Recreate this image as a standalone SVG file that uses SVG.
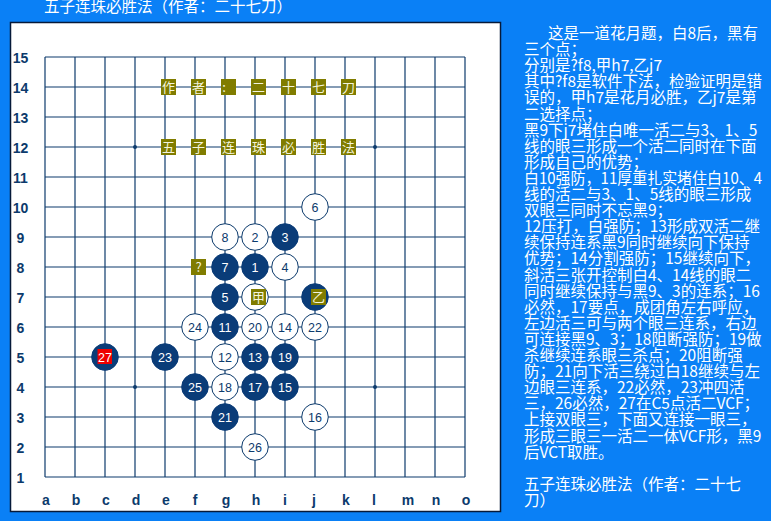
<svg xmlns="http://www.w3.org/2000/svg" width="771" height="521" viewBox="0 0 771 521">
<style>
.cjk{font-family:"Noto Sans CJK SC","Noto Sans",sans-serif;}
.title{fill:#ffffff;font-size:15.5px;}
.panel{fill:#ffffff;font-size:15.5px;}
.grid line{stroke:#0c3a6c;stroke-width:1.2;}
.lbl{font-family:"Liberation Sans",Arial,sans-serif;font-weight:bold;font-size:14px;fill:#0c3a6c;text-anchor:middle;}
.sb{fill:#0a3c78;stroke:#0a3c78;stroke-width:1;}
.sw{fill:#ffffff;stroke:#0c3a6c;stroke-width:1;}
.nb{font-family:"Liberation Sans",Arial,sans-serif;font-size:12.5px;fill:#ffffff;text-anchor:middle;}
.nw{font-family:"Liberation Sans",Arial,sans-serif;font-size:12.5px;fill:#0c3a6c;text-anchor:middle;}
.ob{fill:#807c00;}
.ot{font-family:"Noto Sans CJK SC","Noto Sans",sans-serif;font-size:13px;fill:#f4f4dc;text-anchor:middle;}
.star{fill:#0c3a6c;}
</style>
<rect x="0" y="0" width="771" height="521" fill="#0a80f6"/>
<text class="cjk title" x="44" y="11.5">五子连珠必胜法（作者：二十七刀）</text>
<rect x="10.5" y="22.5" width="490" height="489" fill="#ffffff" stroke="#061a3a" stroke-width="1.5"/>
<g id="grid" class="grid">
<line x1="45" y1="57" x2="465" y2="57"/><line x1="45" y1="87" x2="465" y2="87"/><line x1="45" y1="117" x2="465" y2="117"/><line x1="45" y1="147" x2="465" y2="147"/><line x1="45" y1="177" x2="465" y2="177"/><line x1="45" y1="207" x2="465" y2="207"/><line x1="45" y1="237" x2="465" y2="237"/><line x1="45" y1="267" x2="465" y2="267"/><line x1="45" y1="297" x2="465" y2="297"/><line x1="45" y1="327" x2="465" y2="327"/><line x1="45" y1="357" x2="465" y2="357"/><line x1="45" y1="387" x2="465" y2="387"/><line x1="45" y1="417" x2="465" y2="417"/><line x1="45" y1="447" x2="465" y2="447"/><line x1="45" y1="477" x2="465" y2="477"/>
<line x1="45" y1="57" x2="45" y2="477"/><line x1="75" y1="57" x2="75" y2="477"/><line x1="105" y1="57" x2="105" y2="477"/><line x1="135" y1="57" x2="135" y2="477"/><line x1="165" y1="57" x2="165" y2="477"/><line x1="195" y1="57" x2="195" y2="477"/><line x1="225" y1="57" x2="225" y2="477"/><line x1="255" y1="57" x2="255" y2="477"/><line x1="285" y1="57" x2="285" y2="477"/><line x1="315" y1="57" x2="315" y2="477"/><line x1="345" y1="57" x2="345" y2="477"/><line x1="375" y1="57" x2="375" y2="477"/><line x1="405" y1="57" x2="405" y2="477"/><line x1="435" y1="57" x2="435" y2="477"/><line x1="465" y1="57" x2="465" y2="477"/>
<circle class="star" cx="135" cy="147" r="2"/><circle class="star" cx="375" cy="147" r="2"/><circle class="star" cx="135" cy="387" r="2"/><circle class="star" cx="375" cy="387" r="2"/>
</g>
<g id="row-labels">
<text class="lbl" x="20.5" y="63">15</text><text class="lbl" x="20.5" y="93">14</text><text class="lbl" x="20.5" y="123">13</text><text class="lbl" x="20.5" y="153">12</text><text class="lbl" x="20.5" y="183">11</text><text class="lbl" x="20.5" y="213">10</text><text class="lbl" x="20.5" y="243">9</text><text class="lbl" x="20.5" y="273">8</text><text class="lbl" x="20.5" y="303">7</text><text class="lbl" x="20.5" y="333">6</text><text class="lbl" x="20.5" y="363">5</text><text class="lbl" x="20.5" y="393">4</text><text class="lbl" x="20.5" y="423">3</text><text class="lbl" x="20.5" y="453">2</text><text class="lbl" x="20.5" y="483">1</text>
</g>
<g id="col-labels">
<text class="lbl" x="46" y="505">a</text><text class="lbl" x="76" y="505">b</text><text class="lbl" x="106" y="505">c</text><text class="lbl" x="136" y="505">d</text><text class="lbl" x="166" y="505">e</text><text class="lbl" x="195" y="505">f</text><text class="lbl" x="226" y="505">g</text><text class="lbl" x="256" y="505">h</text><text class="lbl" x="285" y="505">i</text><text class="lbl" x="314" y="505">j</text><text class="lbl" x="346" y="505">k</text><text class="lbl" x="374" y="505">l</text><text class="lbl" x="408" y="505">m</text><text class="lbl" x="436" y="505">n</text><text class="lbl" x="466" y="505">o</text>
</g>
<g id="board-title">
<g id="t-e14"><rect class="ob" x="161" y="79" width="15" height="16"/><text class="ot" x="168.5" y="92">作</text></g>
<g id="t-f14"><rect class="ob" x="191" y="79" width="15" height="16"/><text class="ot" x="198.5" y="92">者</text></g>
<g id="t-g14"><rect class="ob" x="221" y="79" width="15" height="16"/><text class="ot" x="224" y="92">:</text></g>
<g id="t-h14"><rect class="ob" x="251" y="79" width="15" height="16"/><text class="ot" x="258.5" y="92">二</text></g>
<g id="t-i14"><rect class="ob" x="281" y="79" width="15" height="16"/><text class="ot" x="288.5" y="92">十</text></g>
<g id="t-j14"><rect class="ob" x="311" y="79" width="15" height="16"/><text class="ot" x="318.5" y="92">七</text></g>
<g id="t-k14"><rect class="ob" x="341" y="79" width="15" height="16"/><text class="ot" x="348.5" y="92">刀</text></g>
<g id="t-e12"><rect class="ob" x="161" y="139" width="15" height="16"/><text class="ot" x="168.5" y="152">五</text></g>
<g id="t-f12"><rect class="ob" x="191" y="139" width="15" height="16"/><text class="ot" x="198.5" y="152">子</text></g>
<g id="t-g12"><rect class="ob" x="221" y="139" width="15" height="16"/><text class="ot" x="228.5" y="152">连</text></g>
<g id="t-h12"><rect class="ob" x="251" y="139" width="15" height="16"/><text class="ot" x="258.5" y="152">珠</text></g>
<g id="t-i12"><rect class="ob" x="281" y="139" width="15" height="16"/><text class="ot" x="288.5" y="152">必</text></g>
<g id="t-j12"><rect class="ob" x="311" y="139" width="15" height="16"/><text class="ot" x="318.5" y="152">胜</text></g>
<g id="t-k12"><rect class="ob" x="341" y="139" width="15" height="16"/><text class="ot" x="348.5" y="152">法</text></g>
</g>
<g id="stones">
<g id="s1"><circle class="sb" cx="255" cy="267" r="13.3"/><text class="nb" x="255" y="271.5">1</text></g>
<g id="s2"><circle class="sw" cx="255" cy="237" r="13.3"/><text class="nw" x="255" y="241.5">2</text></g>
<g id="s3"><circle class="sb" cx="285" cy="237" r="13.3"/><text class="nb" x="285" y="241.5">3</text></g>
<g id="s4"><circle class="sw" cx="285" cy="267" r="13.3"/><text class="nw" x="285" y="271.5">4</text></g>
<g id="s5"><circle class="sb" cx="225" cy="297" r="13.3"/><text class="nb" x="225" y="301.5">5</text></g>
<g id="s6"><circle class="sw" cx="315" cy="207" r="13.3"/><text class="nw" x="315" y="211.5">6</text></g>
<g id="s7"><circle class="sb" cx="225" cy="267" r="13.3"/><text class="nb" x="225" y="271.5">7</text></g>
<g id="s8"><circle class="sw" cx="225" cy="237" r="13.3"/><text class="nw" x="225" y="241.5">8</text></g>
<g id="s-jia"><circle class="sw" cx="255" cy="297" r="13.3"/><rect class="ob" x="251" y="289" width="15" height="16"/><text class="ot" x="258.5" y="302">甲</text></g>
<g id="s-yi"><circle class="sb" cx="315" cy="297" r="13.3"/><rect class="ob" x="311" y="289" width="15" height="16"/><text class="ot" x="318.5" y="302">乙</text></g>
<g id="s-q"><rect class="ob" x="191" y="259" width="15" height="16"/><text class="ot" x="198.5" y="272">?</text></g>
<g id="s11"><circle class="sb" cx="225" cy="327" r="13.3"/><text class="nb" x="225" y="331.5">11</text></g>
<g id="s12"><circle class="sw" cx="225" cy="357" r="13.3"/><text class="nw" x="225" y="361.5">12</text></g>
<g id="s13"><circle class="sb" cx="255" cy="357" r="13.3"/><text class="nb" x="255" y="361.5">13</text></g>
<g id="s14"><circle class="sw" cx="285" cy="327" r="13.3"/><text class="nw" x="285" y="331.5">14</text></g>
<g id="s15"><circle class="sb" cx="285" cy="387" r="13.3"/><text class="nb" x="285" y="391.5">15</text></g>
<g id="s16"><circle class="sw" cx="315" cy="417" r="13.3"/><text class="nw" x="315" y="421.5">16</text></g>
<g id="s17"><circle class="sb" cx="255" cy="387" r="13.3"/><text class="nb" x="255" y="391.5">17</text></g>
<g id="s18"><circle class="sw" cx="225" cy="387" r="13.3"/><text class="nw" x="225" y="391.5">18</text></g>
<g id="s19"><circle class="sb" cx="285" cy="357" r="13.3"/><text class="nb" x="285" y="361.5">19</text></g>
<g id="s20"><circle class="sw" cx="255" cy="327" r="13.3"/><text class="nw" x="255" y="331.5">20</text></g>
<g id="s21"><circle class="sb" cx="225" cy="417" r="13.3"/><text class="nb" x="225" y="421.5">21</text></g>
<g id="s22"><circle class="sw" cx="315" cy="327" r="13.3"/><text class="nw" x="315" y="331.5">22</text></g>
<g id="s23"><circle class="sb" cx="165" cy="357" r="13.3"/><text class="nb" x="165" y="361.5">23</text></g>
<g id="s24"><circle class="sw" cx="195" cy="327" r="13.3"/><text class="nw" x="195" y="331.5">24</text></g>
<g id="s25"><circle class="sb" cx="195" cy="387" r="13.3"/><text class="nb" x="195" y="391.5">25</text></g>
<g id="s26"><circle class="sw" cx="255" cy="447" r="13.3"/><text class="nw" x="255" y="451.5">26</text></g>
<g id="s27"><circle class="sb" cx="105" cy="357" r="13.3"/><rect x="97.5" y="349" width="14.5" height="15" fill="#ee0000"/><text class="nb" x="105" y="361.5">27</text></g>
</g>
<g id="commentary" class="cjk panel">
<text x="548" y="39">这是一道花月题，白8后，黑有</text>
<text x="524" y="55.1">三个点；</text>
<text x="524" y="71.2">分别是?f8,甲h7,乙j7</text>
<text x="524" y="87.3">其中?f8是软件下法，检验证明是错</text>
<text x="524" y="103.4">误的，甲h7是花月必胜，乙j7是第</text>
<text x="524" y="119.5">二选择点；</text>
<text x="524" y="135.6">黑9下j7堵住白唯一活二与3、1、5</text>
<text x="524" y="151.7">线的眼三形成一个活二同时在下面</text>
<text x="524" y="167.8">形成自己的优势；</text>
<text x="524" y="183.9" textLength="238" lengthAdjust="spacingAndGlyphs">白10强防，11厚重扎实堵住白10、4</text>
<text x="524" y="200">线的活二与3、1、5线的眼三形成</text>
<text x="524" y="216.1">双眼三同时不忘黑9；</text>
<text x="524" y="232.2">12压打，白强防；13形成双活二继</text>
<text x="524" y="248.3">续保持连系黑9同时继续向下保持</text>
<text x="524" y="264.4">优势；14分割强防；15继续向下，</text>
<text x="524" y="280.5">斜活三张开控制白4、14线的眼二</text>
<text x="524" y="296.6">同时继续保持与黑9、3的连系；16</text>
<text x="524" y="312.7">必然，17要点，成团角左右呼应，</text>
<text x="524" y="328.8">左边活三可与两个眼三连系，右边</text>
<text x="524" y="344.9">可连接黑9、3；18阻断强防；19做</text>
<text x="524" y="361">杀继续连系眼三杀点；20阻断强</text>
<text x="524" y="377.1">防；21向下活三绕过白18继续与左</text>
<text x="524" y="393.2">边眼三连系，22必然，23冲四活</text>
<text x="524" y="409.3">三，26必然，27在C5点活二VCF；</text>
<text x="524" y="425.4">上接双眼三，下面又连接一眼三，</text>
<text x="524" y="441.5">形成三眼三一活二一体VCF形，黑9</text>
<text x="524" y="457.6">后VCT取胜。</text>
<text x="524" y="489.8">五子连珠必胜法（作者：二十七</text>
<text x="524" y="505.9">刀）</text>
</g>
</svg>
